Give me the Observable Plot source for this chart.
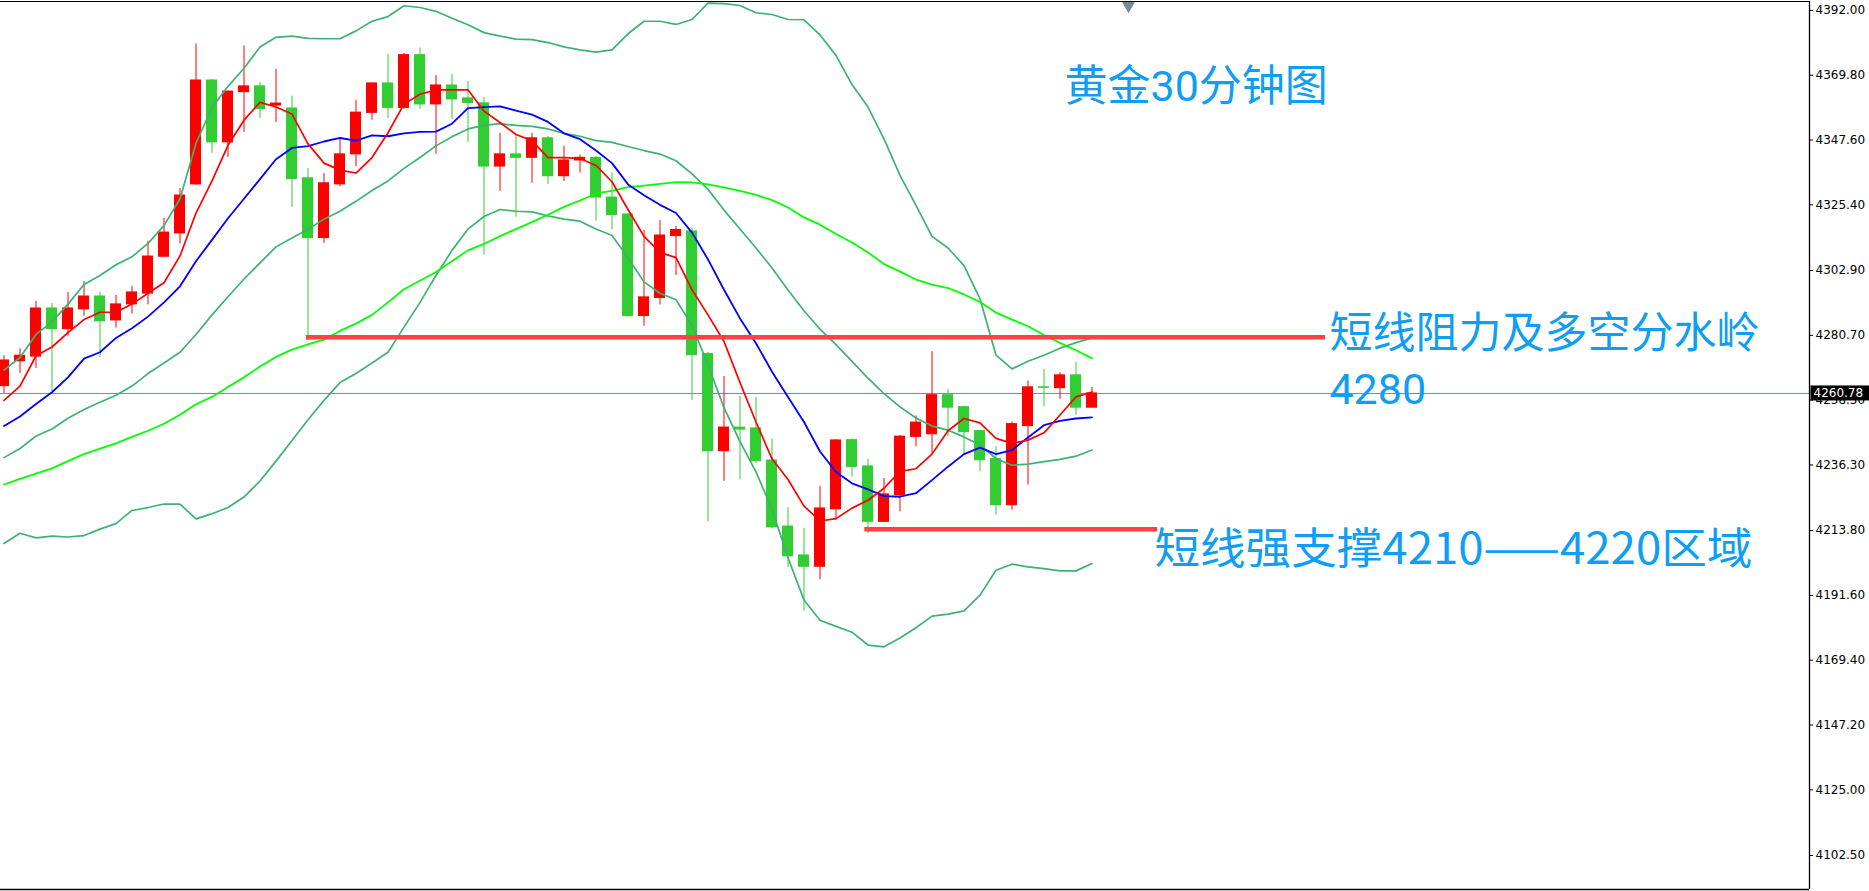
<!DOCTYPE html>
<html>
<head>
<meta charset="utf-8">
<script src="https://cdn.jsdelivr.net/npm/d3@7"></script>
<script src="https://cdn.jsdelivr.net/npm/@observablehq/plot@0.6"></script>
<style>
  html, body { margin: 0; padding: 0; background: #fff; overflow: hidden; }
  #chart svg { display: block; }
</style>
</head>
<body>
<div id="chart"></div>
<script>
// ---- candle data (30-minute gold bars), index 0..68 ----
const opens  = [4263.3,4271.8,4273.4,4289.9,4282.8,4289.6,4294.0,4285.8,4291.3,4295.0,4307.6,4315.6,4332.4,4368.0,4346.8,4364.0,4366.0,4359.4,4358.4,4334.5,4314.0,4332.4,4342.7,4356.9,4367.0,4358.6,4376.7,4359.8,4366.3,4361.9,4360.2,4338.5,4342.7,4341.5,4348.2,4335.2,4340.6,4341.5,4327.9,4322.1,4287.3,4293.5,4314.7,4316.3,4274.3,4241.0,4249.1,4248.8,4237.8,4215.2,4205.3,4201.4,4221.1,4244.8,4235.8,4216.8,4225.9,4245.9,4246.8,4260.2,4256.1,4247.9,4238.3,4222.5,4249.6,4262.9,4262.6,4267.0,4255.9];
const highs  = [4273.7,4276.1,4292.3,4291.6,4295.4,4299.1,4295.4,4294.4,4297.5,4312.9,4320.7,4331.0,4380.5,4368.3,4364.4,4379.8,4367.3,4371.8,4362.6,4337.9,4336.1,4348.5,4361.2,4367.2,4376.9,4377.3,4379.1,4369.7,4370.1,4367.7,4362.2,4349.9,4349.5,4349.9,4348.8,4345.5,4342.5,4342.0,4336.3,4322.3,4316.6,4320.0,4318.0,4317.5,4274.9,4266.6,4259.9,4259.4,4245.2,4221.7,4214.6,4229.0,4245.0,4245.2,4238.2,4231.7,4246.4,4253.1,4275.1,4262.2,4256.4,4248.0,4242.5,4251.1,4265.1,4269.1,4267.9,4271.5,4262.8];
const lows   = [4260.8,4267.6,4269.4,4261.5,4280.4,4287.2,4273.1,4283.2,4288.0,4291.1,4307.6,4312.0,4332.0,4343.0,4341.6,4350.2,4355.0,4353.6,4324.5,4278.9,4312.2,4331.6,4338.5,4354.4,4355.0,4358.1,4358.1,4342.7,4354.6,4346.8,4308.2,4330.0,4321.1,4332.8,4332.4,4333.4,4336.3,4319.8,4316.8,4286.9,4283.8,4291.1,4301.2,4258.4,4216.8,4230.7,4231.2,4236.8,4214.6,4201.2,4186.2,4197.0,4217.4,4232.2,4212.8,4216.6,4220.2,4242.5,4240.2,4245.9,4239.6,4234.0,4219.1,4220.8,4229.4,4256.2,4258.8,4253.3,4255.9];
const closes = [4272.1,4273.7,4289.9,4282.8,4289.9,4294.0,4285.5,4291.3,4295.4,4307.7,4315.9,4328.6,4368.0,4346.8,4364.2,4366.0,4358.2,4360.1,4334.2,4314.0,4332.8,4342.7,4357.0,4367.0,4358.6,4376.7,4359.8,4366.3,4361.5,4360.3,4338.5,4342.7,4341.5,4348.2,4335.2,4340.6,4341.5,4327.9,4321.9,4287.3,4293.7,4314.9,4316.8,4273.9,4241.0,4249.1,4248.4,4237.6,4214.9,4205.0,4201.4,4221.4,4244.7,4235.6,4216.8,4226.2,4246.0,4250.8,4260.2,4255.9,4247.5,4237.9,4222.5,4250.3,4262.9,4262.7,4267.0,4255.9,4260.78];

// ---- indicator lines ----
const ma5  = [4258.4,4263.3,4273.7,4276.7,4281.6,4286.1,4288.6,4288.6,4291.4,4295.1,4298.7,4307.9,4322.6,4333.6,4345.8,4354.4,4360.5,4358.9,4356.5,4346.3,4339.7,4337.3,4336.3,4341.6,4350.1,4359.9,4363.3,4364.8,4364.8,4364.8,4357.5,4353.6,4349.5,4347.4,4341.6,4341.6,4341.3,4338.9,4333.3,4323.8,4314.6,4309.1,4307.3,4296.3,4287.7,4278.6,4264.5,4251.0,4238.4,4231.3,4222.2,4217.1,4217.9,4221.5,4224.2,4228.3,4234.1,4235.0,4240.0,4248.0,4252.2,4250.7,4245.4,4243.7,4244.8,4247.3,4253.4,4259.6,4261.3];
const ma10 = [4249.6,4252.9,4257.2,4261.2,4266.3,4272.7,4274.9,4279.8,4283.1,4287.1,4292.0,4297.5,4306.1,4313.4,4320.8,4327.5,4334.2,4341.0,4344.9,4345.5,4347.1,4348.3,4347.4,4349.2,4348.9,4349.9,4350.4,4350.5,4353.2,4358.5,4358.9,4359.1,4357.7,4356.3,4353.8,4349.9,4347.9,4344.0,4339.7,4332.4,4328.7,4325.4,4322.6,4315.9,4306.7,4296.3,4286.5,4278.0,4268.2,4259.6,4251.0,4240.9,4233.9,4230.0,4227.9,4225.6,4225.4,4226.6,4231.1,4235.7,4240.0,4242.2,4240.0,4241.4,4245.7,4249.9,4251.4,4252.2,4252.6];
const ma60 = [4229.6,4231.5,4233.3,4235.1,4237.6,4240.0,4241.9,4243.7,4245.9,4248.0,4250.4,4253.5,4257.1,4259.6,4263.0,4266.3,4270.0,4273.3,4275.8,4277.6,4279.2,4282.2,4284.7,4287.7,4292.0,4296.5,4299.4,4302.4,4306.1,4309.8,4312.0,4314.7,4317.1,4319.5,4322.0,4324.7,4326.9,4329.3,4330.2,4331.5,4332.0,4332.6,4333.2,4333.1,4332.4,4331.4,4330.2,4328.8,4327.0,4324.5,4321.1,4318.6,4315.4,4312.5,4309.1,4305.1,4302.5,4299.8,4298.1,4296.9,4294.7,4292.1,4288.5,4286.1,4283.8,4280.8,4278.1,4275.6,4272.8];
const bbUpper = [4268.8,4273.1,4281.0,4285.3,4291.4,4298.1,4301.2,4304.9,4307.6,4312.2,4318.3,4327.5,4346.5,4358.7,4366.0,4372.2,4379.5,4382.8,4383.2,4382.4,4382.3,4382.3,4385.0,4388.3,4389.9,4393.6,4393.0,4391.7,4389.3,4387.1,4384.4,4383.2,4382.2,4382.0,4381.0,4379.5,4378.5,4377.7,4378.5,4384.0,4388.3,4388.3,4387.2,4388.9,4394.5,4394.3,4393.7,4391.2,4390.6,4388.9,4388.8,4383.6,4376.6,4366.6,4358.9,4348.0,4335.5,4325.2,4314.6,4310.6,4304.6,4293.2,4273.9,4269.2,4271.8,4273.9,4276.3,4278.2,4279.8];
const bbMid   = [4238.8,4241.9,4246.2,4248.6,4252.3,4255.3,4257.8,4260.2,4263.3,4267.6,4271.2,4274.9,4281.0,4287.7,4293.9,4300.0,4305.5,4311.0,4314.0,4317.0,4320.5,4323.2,4326.6,4330.3,4333.6,4337.9,4341.6,4345.6,4348.7,4351.4,4352.6,4353.2,4352.6,4352.3,4351.4,4349.9,4348.9,4347.4,4346.8,4345.4,4344.0,4342.8,4340.5,4336.0,4330.7,4323.6,4317.1,4310.6,4303.8,4296.2,4289.1,4282.8,4277.5,4271.8,4266.0,4260.7,4256.2,4252.4,4249.6,4248.2,4245.9,4243.1,4238.5,4236.2,4236.6,4237.4,4238.2,4239.3,4241.4];
const bbLower = [4209.4,4212.9,4211.3,4211.9,4211.6,4212.1,4214.3,4216.2,4220.7,4221.7,4222.9,4222.9,4217.8,4219.6,4221.7,4225.3,4230.8,4237.6,4244.7,4251.8,4258.4,4264.5,4267.6,4271.2,4274.9,4283.5,4292.0,4301.2,4309.8,4317.1,4321.4,4323.8,4323.2,4323.0,4321.6,4320.5,4319.8,4317.1,4314.9,4307.3,4299.0,4295.1,4292.9,4284.1,4270.6,4255.9,4244.3,4233.9,4221.1,4204.5,4190.0,4183.1,4181.0,4179.0,4174.6,4174.0,4177.0,4180.5,4184.5,4185.2,4186.3,4191.7,4200.2,4202.3,4201.4,4200.8,4200.0,4200.0,4202.5];

// ---- axis tick labels ----
const priceTicks = [4392.00,4369.80,4347.60,4325.40,4302.90,4280.70,4258.50,4236.30,4213.80,4191.60,4169.40,4147.20,4125.00,4102.50];
const lastPrice = 4260.78;

// ---- annotations ----
const levelLines = [
  {p: 4280.0, i1: 18.9, i2: 82.6},
  {p: 4214.3, i1: 53.8, i2: 72.1}
];
const supportText = "短线强支撑4210——4220区域";
const labels = [
  {text: "黄金30分钟图", i: 66.28, p: 4365.6},
  {text: "短线阻力及多空分水岭", i: 82.84, p: 4281.0},
  {text: "4280", i: 82.84, p: 4261.8}
];
const supportLabel = [{text: supportText, i: 71.9, p: 4207.0}];
const shiftMarker = [{i: 70.28}];

const idx = d3.range(closes.length);
const candles = idx.map(i => ({i, o: opens[i], h: highs[i], l: lows[i], c: closes[i]}));
const UP = "#ff0000", DOWN = "#32cd32";
const col = d => d.c >= d.o ? UP : DOWN;

const W = 1869, H = 891;
const mL = 0, mR = 60, mT = 1, mB = 2;
const step = 16, x0 = 3.5;               // px per bar, centre of bar 0
const plotW = W - mL - mR;
const xDomain = [-x0 / step, (plotW - x0) / step];
const yDomain = [4090.85, 4395.06];
const pxPerUnit = (H - mT - mB) / (yDomain[1] - yDomain[0]);
const halfBody = 5.5 / step;
const textBlue = "#0f9ef5";
const labelFont = "Roboto, 'Noto Sans CJK SC', sans-serif";
const cjkFont = "'Noto Sans CJK SC', sans-serif";

const lineOf = (arr, stroke, sw) => Plot.line(idx, {x: i => i, y: i => arr[i], stroke, strokeWidth: sw, clip: true});

const plot = Plot.plot({
  width: W, height: H,
  marginLeft: mL, marginRight: mR, marginTop: mT, marginBottom: mB,
  style: {fontFamily: "'DejaVu Sans', sans-serif", fontSize: "12px", background: "#fff", color: "#000"},
  x: {type: "linear", domain: xDomain, axis: null},
  y: {type: "linear", domain: yDomain, axis: null},
  marks: [
    Plot.ruleY([lastPrice], {stroke: "#778899", strokeWidth: 1}),
    Plot.ruleX(candles, {x: "i", y1: "l", y2: "h", stroke: col, strokeWidth: 1, clip: true}),
    Plot.rect(candles, {x1: d => d.i - halfBody, x2: d => d.i + halfBody, y1: "o", y2: "c", fill: col, insetTop: -0.5, insetBottom: -0.5, clip: true}),
    lineOf(bbUpper, "#3cb371", 1.7),
    lineOf(bbMid, "#3cb371", 1.7),
    lineOf(bbLower, "#3cb371", 1.7),
    lineOf(ma60, "#00ff00", 1.8),
    lineOf(ma10, "#0000ff", 1.8),
    lineOf(ma5, "#ff0000", 1.7),
    Plot.ruleY(levelLines, {y: "p", x1: "i1", x2: "i2", stroke: "#ff4242", strokeWidth: 4.5}),
    Plot.text(labels, {x: "i", y: "p", text: "text", textAnchor: "start", lineAnchor: "middle", fontSize: 43, fill: textBlue, fontFamily: labelFont}),
    Plot.text(supportLabel, {x: "i", y: "p", text: "text", textAnchor: "start", lineAnchor: "middle", fontSize: 43, fill: textBlue, fontFamily: cjkFont}),
    Plot.dot(shiftMarker, {x: "i", frameAnchor: "top", dy: 4, symbol: "triangle", rotate: 180, r: 5, fill: "#778899", stroke: null}),
    Plot.ruleY([yDomain[1]], {stroke: "#000", strokeWidth: 1}),
    Plot.ruleY([yDomain[0]], {stroke: "#000", strokeWidth: 1.3}),
    Plot.ruleX([xDomain[1]], {stroke: "#000", strokeWidth: 1.3}),
    Plot.axisY(priceTicks, {anchor: "right", tickSize: 3, tickPadding: 3, tickFormat: d3.format(".2f"), label: null, fontSize: 12}),
    // current-price tag on the right axis
    Plot.rect([lastPrice], {
      x1: () => xDomain[1] + 1.5 / step, x2: () => xDomain[1] + (mR + 2) / step,
      y1: d => d - 7.5 / pxPerUnit, y2: d => d + 7.5 / pxPerUnit,
      fill: "#000"
    }),
    Plot.text([lastPrice], {y: d => d, frameAnchor: "right", dx: 4, textAnchor: "start", text: d => d.toFixed(2), fill: "#fff", fontSize: 12})
  ]
});

document.getElementById("chart").appendChild(plot);

// stretch the long support label to the width it has in the reference (glyphs widen, no gaps)
d3.select(plot).selectAll("text")
  .filter(function() { return this.textContent === supportText; })
  .attr("textLength", 598)
  .attr("lengthAdjust", "spacingAndGlyphs");
</script>
</body>
</html>
